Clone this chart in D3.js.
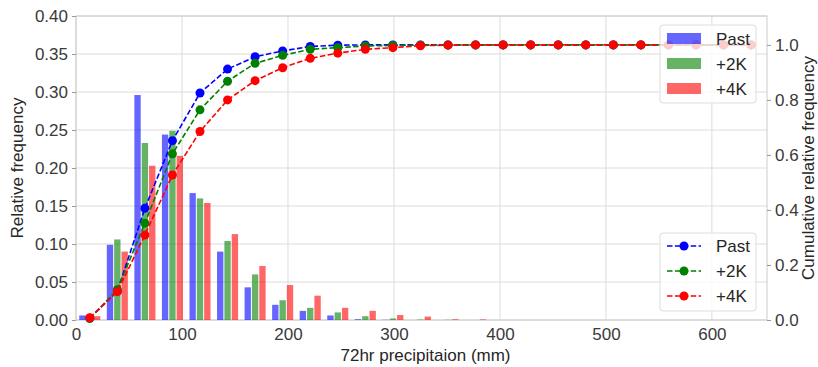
<!DOCTYPE html>
<html>
<head>
<meta charset="utf-8">
<script src="https://cdn.jsdelivr.net/npm/d3@7"></script>
<style>
  body { margin: 0; background: #fff; }
  svg { font-family: "Liberation Sans", Arial, sans-serif; }
</style>
</head>
<body>
<div id="chart"></div>
<script>
// bin centres (mm) of the 72hr precipitation histogram
var binCenters = [13, 39, 65, 91, 117, 143, 169, 195, 221, 247, 273, 299, 325,
                  351, 377, 403, 429, 455, 481, 507, 533, 559, 585, 611, 637];
var binWidth = 26;

var seriesNames = ["Past", "+2K", "+4K"];

// relative frequency per bin
var freqPast = [0.006, 0.099, 0.296, 0.244, 0.167, 0.090, 0.043, 0.020, 0.012, 0.006, 0.001, 0.0003, 0,
                0, 0, 0, 0, 0, 0, 0, 0, 0, 0, 0, 0];
var freq2K   = [0.005, 0.106, 0.233, 0.249, 0.160, 0.104, 0.060, 0.026, 0.016, 0.010, 0.005, 0.002, 0.0006,
                0.0003, 0, 0, 0, 0, 0, 0, 0, 0, 0, 0, 0];
var freq4K   = [0.005, 0.090, 0.203, 0.216, 0.154, 0.113, 0.071, 0.046, 0.032, 0.016, 0.012, 0.0065, 0.0045,
                0.001, 0.0008, 0, 0, 0, 0, 0, 0, 0, 0, 0, 0];

// cumulative relative frequency per bin
var cumPast = [0.006, 0.105, 0.406, 0.652, 0.825, 0.912, 0.957, 0.978, 0.994, 0.999, 1.0, 1.0, 1.0,
               1.0, 1.0, 1.0, 1.0, 1.0, 1.0, 1.0, 1.0, 1.0, 1.0, 1.0, 1.0];
var cum2K   = [0.006, 0.110, 0.352, 0.604, 0.764, 0.868, 0.933, 0.962, 0.984, 0.990, 0.996, 0.998, 0.999,
               1.0, 1.0, 1.0, 1.0, 1.0, 1.0, 1.0, 1.0, 1.0, 1.0, 1.0, 1.0];
var cum4K   = [0.008, 0.103, 0.309, 0.527, 0.685, 0.800, 0.870, 0.917, 0.951, 0.970, 0.984, 0.990, 0.997,
               0.999, 1.0, 1.0, 1.0, 1.0, 1.0, 1.0, 1.0, 1.0, 1.0, 1.0, 1.0];

var xTicks = [0, 100, 200, 300, 400, 500, 600];
var yTicks = [0, 0.05, 0.10, 0.15, 0.20, 0.25, 0.30, 0.35, 0.40];
var y2Ticks = [0, 0.2, 0.4, 0.6, 0.8, 1.0];

var freqs = [freqPast, freq2K, freq4K];
var cums = [cumPast, cum2K, cum4K];
var barColors = ["#0000ff", "#008000", "#ff0000"];
var lineColors = ["#0000ff", "#008000", "#ff0000"];

var width = 818, height = 367;
var margin = {top: 16, right: 51, bottom: 47, left: 76};
var plotW = width - margin.left - margin.right;
var plotH = height - margin.top - margin.bottom;
var fontSize = 17;

var svg = d3.select("#chart").append("svg")
	.attr("width", width)
	.attr("height", height);

var g = svg.append("g")
	.attr("transform", "translate(" + margin.left + "," + margin.top + ")");

var x = d3.scaleLinear().domain([0, 652]).range([0, plotW]);
var y = d3.scaleLinear().domain([0, 0.40]).range([plotH, 0]);
var y2 = d3.scaleLinear().domain([0, 1.105]).range([plotH, 0]);

// grid
g.append("g").selectAll("line")
	.data(yTicks)
	.enter().append("line")
		.attr("x1", 0).attr("x2", plotW)
		.attr("y1", function(d) { return y(d); })
		.attr("y2", function(d) { return y(d); })
		.attr("stroke", "#dcdcdc").attr("stroke-width", 1);
g.append("g").selectAll("line")
	.data(xTicks)
	.enter().append("line")
		.attr("y1", 0).attr("y2", plotH)
		.attr("x1", function(d) { return x(d); })
		.attr("x2", function(d) { return x(d); })
		.attr("stroke", "#dcdcdc").attr("stroke-width", 1);

// frame
g.append("rect")
	.attr("width", plotW).attr("height", plotH)
	.attr("fill", "none").attr("stroke", "#cccccc").attr("stroke-width", 1);

// histogram bars (3 per bin, rwidth 0.8)
var slot = x(binWidth) - x(0);
var barSlot = slot * 0.8 / 3;
freqs.forEach(function(series, s) {
	g.append("g").selectAll("rect")
		.data(series)
		.enter().append("rect")
			.attr("x", function(d, i) { return x(binCenters[i]) - slot * 0.4 + s * barSlot + 0.5; })
			.attr("width", barSlot - 1)
			.attr("y", function(d) { return y(d); })
			.attr("height", function(d) { return plotH - y(d); })
			.attr("fill", barColors[s])
			.attr("fill-opacity", 0.6);
});

// axes
var tickColor = "#3a3a3a";
var xAxis = g.append("g")
	.attr("transform", "translate(0," + plotH + ")")
	.call(d3.axisBottom(x).tickValues(xTicks).tickSize(0).tickPadding(8).tickFormat(d3.format("d")));
var yAxis = g.append("g")
	.call(d3.axisLeft(y).tickValues(yTicks).tickSize(4).tickPadding(4).tickFormat(d3.format(".2f")));
var y2Axis = g.append("g")
	.attr("transform", "translate(" + plotW + ",0)")
	.call(d3.axisRight(y2).tickValues(y2Ticks).tickSize(4).tickPadding(4).tickFormat(d3.format(".1f")));
[xAxis, yAxis, y2Axis].forEach(function(a) {
	a.select(".domain").remove();
	a.selectAll("text").attr("font-size", fontSize).attr("fill", tickColor).attr("font-family", null);
	a.selectAll("line").attr("stroke", "#999");
});

// axis labels
svg.append("text")
	.attr("transform", "translate(23," + (margin.top + plotH / 2) + ") rotate(-90)")
	.attr("text-anchor", "middle")
	.attr("font-size", fontSize).attr("fill", "#262626")
	.text("Relative frequency");
svg.append("text")
	.attr("transform", "translate(814," + (margin.top + plotH / 2) + ") rotate(-90)")
	.attr("text-anchor", "middle")
	.attr("font-size", fontSize).attr("fill", "#262626")
	.text("Cumulative relative frequency");
svg.append("text")
	.attr("x", margin.left + plotW / 2 + 4)
	.attr("y", 361)
	.attr("text-anchor", "middle")
	.attr("font-size", fontSize).attr("fill", "#262626")
	.text("72hr precipitaion (mm)");

// bar legend (drawn under the cumulative lines)
var leg1 = svg.append("g").attr("transform", "translate(660,25)");
leg1.append("rect")
	.attr("width", 96).attr("height", 78).attr("rx", 3)
	.attr("fill", "#fff").attr("fill-opacity", 0.8)
	.attr("stroke", "#dddddd");
seriesNames.forEach(function(name, s) {
	leg1.append("rect")
		.attr("x", 7).attr("y", 8 + s * 25)
		.attr("width", 34).attr("height", 11)
		.attr("fill", barColors[s]).attr("fill-opacity", 0.6);
	leg1.append("text")
		.attr("x", 56).attr("y", 14 + s * 25)
		.attr("dy", "0.35em")
		.attr("font-size", fontSize).attr("fill", "#262626")
		.text(name);
});

// cumulative lines
var line = d3.line()
	.x(function(d, i) { return x(binCenters[i]); })
	.y(function(d) { return y2(d); });
cums.forEach(function(series, s) {
	var lg = g.append("g");
	lg.append("path")
		.datum(series)
		.attr("d", line)
		.attr("fill", "none")
		.attr("stroke", lineColors[s])
		.attr("stroke-width", 1.6)
		.attr("stroke-dasharray", "5.5,2.4");
	lg.selectAll("circle")
		.data(series)
		.enter().append("circle")
			.attr("cx", function(d, i) { return x(binCenters[i]); })
			.attr("cy", function(d) { return y2(d); })
			.attr("r", 4.5)
			.attr("fill", lineColors[s]);
});

// line legend
var leg2 = svg.append("g").attr("transform", "translate(660,233)");
leg2.append("rect")
	.attr("width", 96).attr("height", 78).attr("rx", 3)
	.attr("fill", "#fff").attr("fill-opacity", 0.8)
	.attr("stroke", "#dddddd");
seriesNames.forEach(function(name, s) {
	var cy = 13 + s * 25;
	leg2.append("line")
		.attr("x1", 7).attr("x2", 41)
		.attr("y1", cy).attr("y2", cy)
		.attr("stroke", lineColors[s])
		.attr("stroke-width", 1.6)
		.attr("stroke-dasharray", "5.5,2.4");
	leg2.append("circle")
		.attr("cx", 24).attr("cy", cy).attr("r", 4.5)
		.attr("fill", lineColors[s]);
	leg2.append("text")
		.attr("x", 56).attr("y", cy)
		.attr("dy", "0.35em")
		.attr("font-size", fontSize).attr("fill", "#262626")
		.text(name);
});
</script>
</body>
</html>
